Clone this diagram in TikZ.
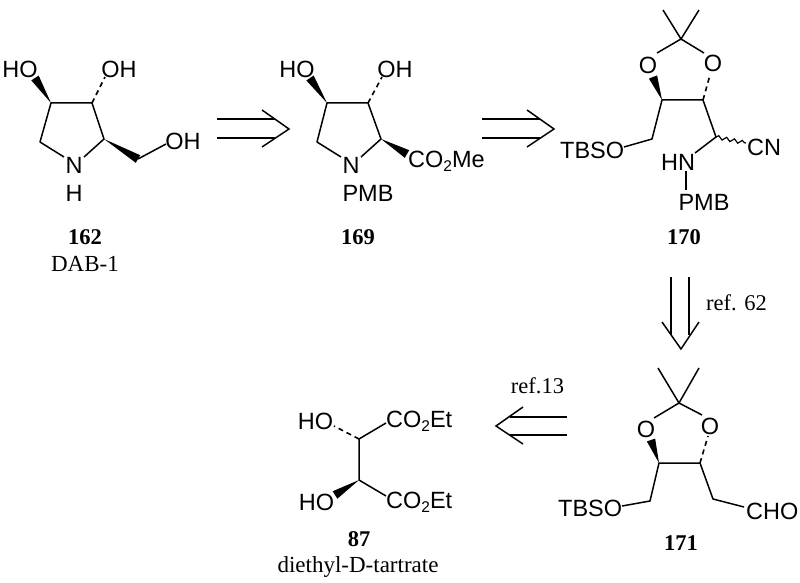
\documentclass[tikz,border=0pt]{standalone}
\usepackage{fontspec}
\setmainfont{Liberation Serif}
\newfontfamily\chemfont{Liberation Sans}
\usetikzlibrary{calc,decorations.pathmorphing}
\newcommand{\lowtwo}{\raisebox{-4pt}{\fontsize{15.5}{15.5}\selectfont 2}}
\newcommand{\wedgebond}[2]{\fill[black] (#1) -- ($(#2)!4.4pt!90:(#1)$) -- ($(#2)!4.4pt!-90:(#1)$) -- cycle;}
\tikzset{
  bond/.style={line width=1.5pt,black,line cap=butt},
  hashb/.style={line width=1.6pt,black,dash pattern=on 5pt off 4pt},
  chem/.style={font=\chemfont\fontsize{23.5}{23.5}\selectfont,inner sep=0pt,text=black},
  cid/.style={font=\bfseries\fontsize{22.5}{22.5}\selectfont,inner sep=0pt,text=black},
  captext/.style={font=\fontsize{23}{23}\selectfont,inner sep=0pt,text=black},
  reftext/.style={font=\fontsize{22.5}{22.5}\selectfont,inner sep=0pt,text=black},
}
\begin{document}
\begin{tikzpicture}[x=1pt,y=-1pt]
\useasboundingbox (0,0) rectangle (800,583);
\fill[white] (0,0) rectangle (800,583);
% ---------- 162
\coordinate (a4) at (51,103); \coordinate (a3) at (92,103); \coordinate (a2) at (104,139);
\coordinate (a5) at (40,142); \coordinate (a6) at (138,159);
\coordinate (a4w) at (35,78); \coordinate (a3h) at (105,77);
\coordinate (aNl) at (64,157); \coordinate (aNr) at (84,157); \coordinate (aOH) at (166,144);
\node[chem] (aho) at (20,69) {HO};
\node[chem] (aoh) at (119,69) {OH};
\node[chem] (an) at (74,165) {N};
\node[chem] (ah) at (74,193) {H};
\node[chem] (aoh2) at (183,141) {OH};
\node[cid] (l162) at (85,237) {162};
\node[captext] (c162) at (85,264) {DAB-1};
\draw[bond,line join=round] (aNl) -- (a5) -- (a4) -- (a3) -- (a2) -- (aNr);
\draw[bond] (a6) -- (aOH);
\wedgebond{a4}{a4w}
\wedgebond{a2}{a6}
\draw[hashb] (a3) -- (a3h);
% ---------- arrow 1
\coordinate (r1t) at (289,129); \coordinate (r1a) at (262,110); \coordinate (r1b) at (262,147);
\coordinate (r1s1) at (217,119); \coordinate (r1e1) at (275,119);
\coordinate (r1s2) at (217,138); \coordinate (r1e2) at (275,138);
\draw[bond] (r1a) -- (r1t) -- (r1b);
\draw[bond] (r1s1) -- (r1e1);
\draw[bond] (r1s2) -- (r1e2);
% ---------- 169
\coordinate (b4) at (327,103); \coordinate (b3) at (368,103); \coordinate (b2) at (381,139);
\coordinate (b5) at (317,142); \coordinate (b4w) at (310,78); \coordinate (b3h) at (382,77);
\coordinate (b2w) at (407,154); \coordinate (bNl) at (341,157); \coordinate (bNr) at (361,157);
\node[chem] (bho) at (297,69) {HO};
\node[chem] (boh) at (395,69) {OH};
\node[chem] (bn) at (351,165) {N};
\node[chem] (bp) at (368,193) {PMB};
\node[chem,anchor=base west] (bco) at (408,167) {CO\lowtwo Me};
\node[cid] (l169) at (358,237) {169};
\draw[bond,line join=round] (bNl) -- (b5) -- (b4) -- (b3) -- (b2) -- (bNr);
\wedgebond{b4}{b4w}
\wedgebond{b2}{b2w}
\draw[hashb] (b3) -- (b3h);
% ---------- arrow 2
\coordinate (r2t) at (554,129); \coordinate (r2a) at (527,110); \coordinate (r2b) at (527,147);
\coordinate (r2s1) at (482,119); \coordinate (r2e1) at (540,119);
\coordinate (r2s2) at (482,138); \coordinate (r2e2) at (540,138);
\draw[bond] (r2a) -- (r2t) -- (r2b);
\draw[bond] (r2s1) -- (r2e1);
\draw[bond] (r2s2) -- (r2e2);
% ---------- 170
\coordinate (cq) at (681,39); \coordinate (cm1) at (663,10); \coordinate (cm2) at (699,10);
\coordinate (cOlb) at (657,53); \coordinate (cOrb) at (704,53);
\coordinate (c4) at (662,100); \coordinate (c3) at (703,100);
\coordinate (c4w) at (653,77); \coordinate (c3h) at (710,75);
\coordinate (cch) at (652,139); \coordinate (cOt) at (624,147);
\coordinate (cc) at (716,137); \coordinate (cw) at (746,143); \coordinate (cnb) at (695,153);
\coordinate (cn1) at (686,171); \coordinate (cn2) at (686,190);
\node[chem] (col) at (648,65) {O};
\node[chem] (cor) at (713,63) {O};
\node[chem,anchor=base west] (ctbs) at (560,158) {TBSO};
\node[chem] (ccn) at (764,147) {CN};
\node[chem] (chn) at (678,162) {HN};
\node[chem] (cp) at (704,202) {PMB};
\node[cid] (l170) at (684,237) {170};
\draw[bond] (cm1) -- (cq) -- (cm2);
\draw[bond] (cOlb) -- (cq) -- (cOrb);
\draw[bond,line join=round] (cOt) -- (cch) -- (c4) -- (c3) -- (cc) -- (cnb);
\draw[bond] (cn1) -- (cn2);
\draw[line width=1.2pt,black,decorate,decoration={snake,amplitude=1.8pt,segment length=8pt}] (cc) -- (cw);
\wedgebond{c4}{c4w}
\draw[hashb] (c3) -- (c3h);
% ---------- arrow 3
\coordinate (r3t) at (681,349); \coordinate (r3a) at (662,322); \coordinate (r3b) at (699,322);
\coordinate (r3s1) at (671,277); \coordinate (r3e1) at (671,335);
\coordinate (r3s2) at (689,277); \coordinate (r3e2) at (689,335);
\draw[bond] (r3a) -- (r3t) -- (r3b);
\draw[bond] (r3s1) -- (r3e1);
\draw[bond] (r3s2) -- (r3e2);
\node[reftext] (t62) at (736.5,303) {ref. 62};
% ---------- 171
\coordinate (dq) at (679,403); \coordinate (dm1) at (658,368); \coordinate (dm2) at (699,368);
\coordinate (dOlb) at (654,418); \coordinate (dOrb) at (702,415);
\coordinate (d4) at (659,463); \coordinate (d3) at (700,463);
\coordinate (d4w) at (651,440); \coordinate (d3h) at (708,436);
\coordinate (dch) at (650,501); \coordinate (dOt) at (622,506);
\coordinate (dr) at (713,499); \coordinate (dre) at (744,507);
\node[chem] (dol) at (646,429) {O};
\node[chem] (dor) at (710,426) {O};
\node[chem,anchor=base west] (dtbs) at (558,516) {TBSO};
\node[chem,anchor=base west] (dcho) at (746,519) {CHO};
\node[cid] (l171) at (681,543) {171};
\draw[bond] (dm1) -- (dq) -- (dm2);
\draw[bond] (dOlb) -- (dq) -- (dOrb);
\draw[bond,line join=round] (dOt) -- (dch) -- (d4) -- (d3) -- (dr) -- (dre);
\wedgebond{d4}{d4w}
\draw[hashb] (d3) -- (d3h);
% ---------- arrow 4
\coordinate (r4t) at (496,426); \coordinate (r4a) at (523,407); \coordinate (r4b) at (523,444);
\coordinate (r4s1) at (567,417); \coordinate (r4e1) at (510,417);
\coordinate (r4s2) at (567,435); \coordinate (r4e2) at (510,435);
\draw[bond] (r4a) -- (r4t) -- (r4b);
\draw[bond] (r4s1) -- (r4e1);
\draw[bond] (r4s2) -- (r4e2);
\node[reftext] (t13) at (537.5,386) {ref.13};
% ---------- 87
\coordinate (e1) at (359,439); \coordinate (e2) at (359,480);
\coordinate (e1h) at (334,426); \coordinate (e2w) at (335,495);
\coordinate (e1c) at (386,423); \coordinate (e2c) at (386,496);
\node[chem] (eho1) at (315.5,421) {HO};
\node[chem] (eho2) at (316.5,502) {HO};
\node[chem,anchor=base west] (eco1) at (386,427.5) {CO\lowtwo Et};
\node[chem,anchor=base west] (eco2) at (386,508.5) {CO\lowtwo Et};
\node[cid] (l87) at (359,539) {87};
\node[captext] (c87) at (358,567) {diethyl-D-tartrate};
\draw[bond,line join=round] (e1c) -- (e1) -- (e2) -- (e2c);
\wedgebond{e2}{e2w}
\draw[hashb] (e1) -- (e1h);
\end{tikzpicture}
\end{document}
